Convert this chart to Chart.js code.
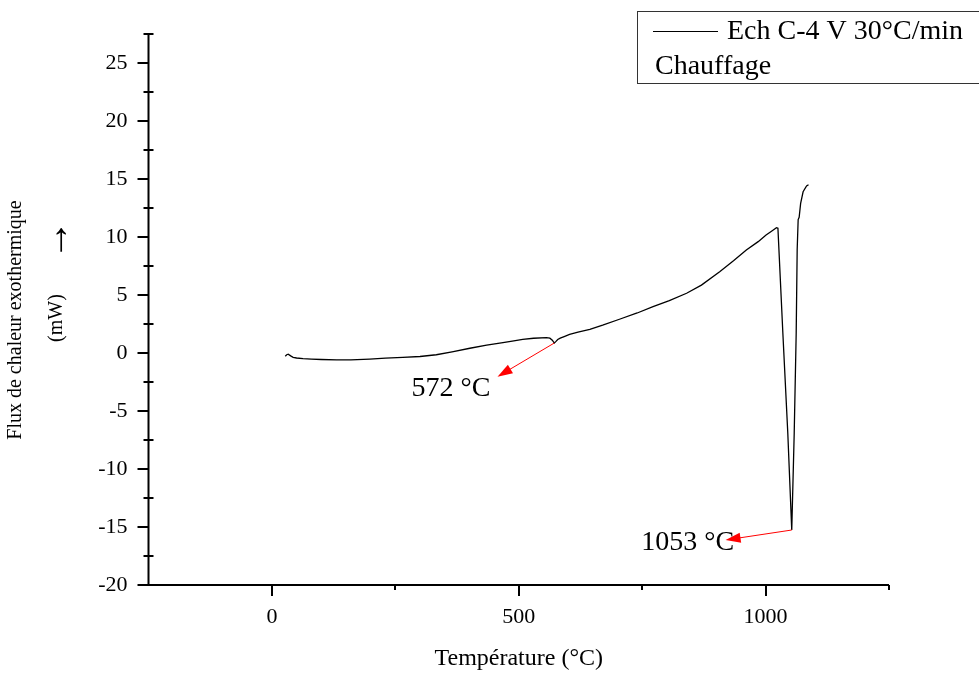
<!DOCTYPE html>
<html>
<head>
<meta charset="UTF-8">
<title>DSC Ech C-4 V</title>
<script src="https://cdn.jsdelivr.net/npm/chart.js"></script>
<style>
  html, body { margin: 0; padding: 0; background: #fff; }
</style>
</head>
<body>
<canvas id="chart" width="979" height="678"></canvas>

<script>
// heating curve: temperature (°C) and heat flow (mW)
var temps = [27, 30, 33, 38, 43, 50, 63, 80, 100, 131,
             160, 198, 230, 265, 300, 333, 365, 401, 435, 468,
             490, 508, 530, 556, 563, 568, 572, 575, 579, 584,
             592, 603, 620, 644, 670, 704, 740, 772, 805, 840,
             870, 907, 935, 961, 985, 1001, 1012, 1022, 1025, 1035,
             1045, 1053, 1058, 1062, 1064, 1066, 1068, 1071, 1076, 1083,
             1087];
var flux = [-0.28, -0.15, -0.10, -0.25, -0.37, -0.43, -0.49, -0.53, -0.56, -0.60,
            -0.60, -0.53, -0.45, -0.37, -0.30, -0.15, 0.10, 0.41, 0.67, 0.90,
            1.05, 1.18, 1.27, 1.32, 1.28, 1.10, 0.86, 0.98, 1.16, 1.28,
            1.42, 1.60, 1.80, 2.04, 2.40, 2.91, 3.45, 3.99, 4.52, 5.15,
            5.85, 7.00, 7.95, 8.88, 9.60, 10.17, 10.50, 10.80, 10.75, 1.70,
            -6.92, -15.26, -6.90, 1.70, 8.90, 11.50, 11.70, 12.90, 13.90, 14.40,
            14.50];

var seriesLabel = 'Ech C-4 V 30°C/min';
var seriesNote = 'Chauffage';

var xTickLabels = [0, 500, 1000];
var yTickLabels = [-20, -15, -10, -5, 0, 5, 10, 15, 20, 25];

// marked peaks (°C, mW)
var peakTemps = [572, 1053];
var peakFlux = [0.86, -15.26];

// where the peak labels and arrow tips sit, in axis units
var peakTextAt = [[283, -3.7], [748, -16.98]];
var peakArrowTip = [[457, -2.04], [919, -16.12]];

var FONT = '"Liberation Serif", "Times New Roman", serif';

function arrow(ctx, x1, y1, x2, y2) {
    var ang = Math.atan2(y2 - y1, x2 - x1);
    var len = 15, half = 5;
    ctx.beginPath();
    ctx.moveTo(x1, y1);
    ctx.lineTo(x2 - Math.cos(ang) * len * 0.8, y2 - Math.sin(ang) * len * 0.8);
    ctx.stroke();
    ctx.beginPath();
    ctx.moveTo(x2, y2);
    ctx.lineTo(x2 - Math.cos(ang) * len - Math.sin(ang) * half, y2 - Math.sin(ang) * len + Math.cos(ang) * half);
    ctx.lineTo(x2 - Math.cos(ang) * len + Math.sin(ang) * half, y2 - Math.sin(ang) * len - Math.cos(ang) * half);
    ctx.closePath();
    ctx.fill();
}

// axes with inward/outward tick marks, titles, legend box and peak labels
var decorations = {
    id: 'decorations',
    afterDraw: function (chart) {
        var ctx = chart.ctx;
        var xs = chart.scales.x, ys = chart.scales.y;
        var a = chart.chartArea;
        ctx.save();

        ctx.strokeStyle = '#000';
        ctx.lineWidth = 2;
        ctx.beginPath();
        ctx.moveTo(a.left, a.top);
        ctx.lineTo(a.left, a.bottom);
        ctx.lineTo(a.right, a.bottom);
        ctx.stroke();

        ys.ticks.forEach(function (t) {
            var py = Math.round(ys.getPixelForValue(t.value));
            ctx.beginPath();
            if (t.value % 5 === 0) {
                ctx.moveTo(a.left - 11, py);
                ctx.lineTo(a.left, py);
            } else {
                ctx.moveTo(a.left - 5, py);
                ctx.lineTo(a.left + 5, py);
            }
            ctx.stroke();
        });
        xs.ticks.forEach(function (t) {
            if (t.value === xs.min) return;
            var px = Math.round(xs.getPixelForValue(t.value));
            ctx.beginPath();
            ctx.moveTo(px, a.bottom);
            ctx.lineTo(px, a.bottom + (t.value % 500 === 0 ? 11 : 5));
            ctx.stroke();
        });

        // axis titles
        ctx.fillStyle = '#000';
        ctx.font = '24px ' + FONT;
        ctx.textAlign = 'center';
        ctx.textBaseline = 'alphabetic';
        ctx.fillText('Température (°C)', (a.left + a.right) / 2, 665);

        ctx.save();
        ctx.translate(16, 320);
        ctx.rotate(-Math.PI / 2);
        ctx.font = '20px ' + FONT;
        ctx.textBaseline = 'middle';
        ctx.fillText('Flux de chaleur exothermique', 0, 0);
        ctx.restore();

        ctx.save();
        ctx.translate(57, 318);
        ctx.rotate(-Math.PI / 2);
        ctx.font = '20px ' + FONT;
        ctx.textBaseline = 'middle';
        ctx.fillText('(mW)', 0, 0);
        ctx.font = '40px ' + FONT;
        ctx.fillText('\u2192', 78, 0);
        ctx.restore();

        // legend
        ctx.lineWidth = 1;
        ctx.strokeStyle = '#333';
        ctx.strokeRect(637.5, 11.5, 360, 72);
        ctx.strokeStyle = '#000';
        ctx.beginPath();
        ctx.moveTo(653, 31.5);
        ctx.lineTo(718, 31.5);
        ctx.stroke();
        ctx.font = '28px ' + FONT;
        ctx.textAlign = 'left';
        ctx.textBaseline = 'alphabetic';
        ctx.fillText(chart.data.datasets[0].label, 727, 39);
        ctx.fillText(seriesNote, 655, 74);

        // peak labels with red arrows
        ctx.strokeStyle = '#ff0000';
        ctx.fillStyle = '#ff0000';
        ctx.lineWidth = 1;
        for (var i = 0; i < peakTemps.length; i++) {
            arrow(ctx,
                xs.getPixelForValue(peakTemps[i]), ys.getPixelForValue(peakFlux[i]),
                xs.getPixelForValue(peakArrowTip[i][0]), ys.getPixelForValue(peakArrowTip[i][1]));
        }
        ctx.fillStyle = '#000';
        ctx.font = '28px ' + FONT;
        for (var j = 0; j < peakTemps.length; j++) {
            ctx.fillText(peakTemps[j] + ' °C',
                xs.getPixelForValue(peakTextAt[j][0]), ys.getPixelForValue(peakTextAt[j][1]));
        }
        ctx.restore();
    }
};

var ctx = document.getElementById('chart').getContext('2d');
var chart = new Chart(ctx, {
    type: 'line',
    data: {
        datasets: [{
            label: seriesLabel,
            data: temps.map(function (t, i) { return { x: t, y: flux[i] }; }),
            borderColor: '#000',
            borderWidth: 1.3,
            pointRadius: 0,
            tension: 0,
            fill: false
        }]
    },
    options: {
        responsive: false,
        animation: false,
        layout: { padding: { top: 34, right: 90, left: 0, bottom: 0 } },
        plugins: {
            legend: { display: false },
            tooltip: { enabled: false }
        },
        scales: {
            x: {
                type: 'linear',
                min: -250,
                max: 1250,
                grid: { display: false },
                border: { display: false },
                ticks: {
                    stepSize: 250,
                    autoSkip: false,
                    maxRotation: 0,
                    padding: 11,
                    color: '#000',
                    font: { family: FONT, size: 22 },
                    callback: function (v) { return xTickLabels.indexOf(v) >= 0 ? String(v) : ''; }
                },
                afterFit: function (s) { s.height = 93; }
            },
            y: {
                min: -20,
                max: 27.5,
                grid: { display: false },
                border: { display: false },
                ticks: {
                    stepSize: 2.5,
                    autoSkip: false,
                    padding: 13,
                    color: '#000',
                    font: { family: FONT, size: 22 },
                    callback: function (v) { return yTickLabels.indexOf(v) >= 0 ? String(v) : ''; }
                },
                afterFit: function (s) { s.width = 148.5; }
            }
        }
    },
    plugins: [decorations]
});
</script>
</body>
</html>
